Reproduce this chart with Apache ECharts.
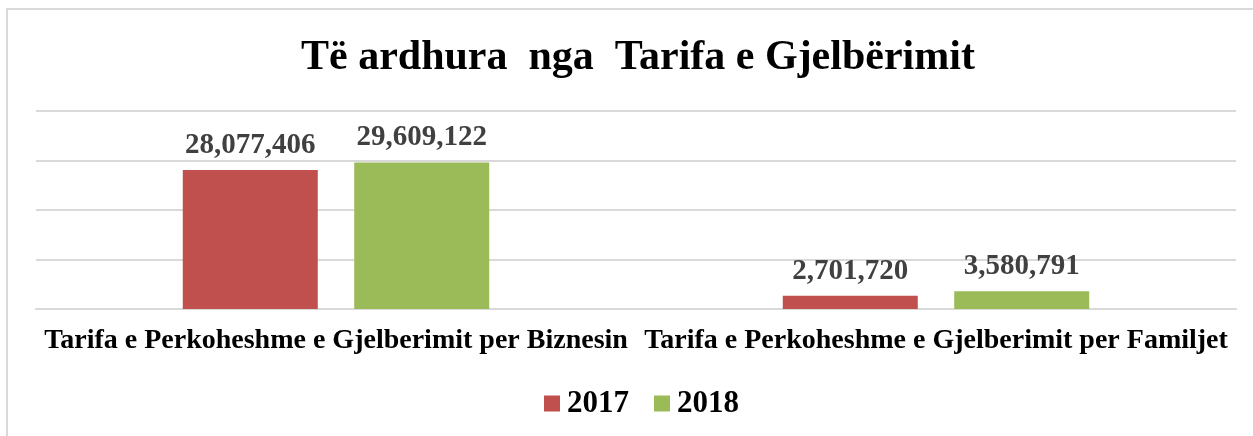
<!DOCTYPE html>
<html>
<head>
<meta charset="utf-8">
<script src="https://cdn.jsdelivr.net/npm/echarts@6/dist/echarts.min.js"></script>
<style>
html,body{margin:0;padding:0;background:#fff;}
#chart{width:1253px;height:436px;}
</style>
</head>
<body>
<div id="chart"></div>
<script>
const titleText = 'Të ardhura  nga  Tarifa e Gjelbërimit';
const categories = ['Tarifa e Perkoheshme e Gjelberimit per Biznesin', 'Tarifa e Perkoheshme e Gjelberimit per Familjet'];
const seriesNames = ['2017', '2018'];
const values2017 = [28077406, 2701720];
const values2018 = [29609122, 3580791];
const colors = ['#C0504D', '#9BBB59'];
const serif = '"Liberation Serif", "Times New Roman", serif';

const chart = echarts.init(document.getElementById('chart'));
const labelStyle = {
  show: true, position: 'top', distance: 10,
  fontFamily: serif, fontWeight: 'bold', fontSize: 29, color: '#404040',
  formatter: p => p.value.toLocaleString('en-US')
};
chart.setOption({
  animation: false,
  color: colors,
  graphic: [{
    type: 'rect', shape: {x: 7, y: 9, width: 1260, height: 440},
    style: {fill: 'none', stroke: '#d9d9d9', lineWidth: 2}, silent: true
  }],
  title: {
    text: titleText, left: 296, top: 32,
    textStyle: {fontFamily: serif, fontWeight: 'bold', fontSize: 42, color: '#000'}
  },
  legend: {
    data: seriesNames, top: 383, left: 539,
    icon: 'rect', itemWidth: 16, itemHeight: 16, itemGap: 25,
    textStyle: {fontFamily: serif, fontWeight: 'bold', fontSize: 31, color: '#000', padding: [0, 0, 0, 2]}
  },
  grid: {left: 36, right: 17, top: 111, bottom: 127},
  xAxis: {
    type: 'category', data: categories,
    axisLine: {lineStyle: {color: '#d9d9d9', width: 2}},
    axisTick: {show: false},
    axisLabel: {fontFamily: serif, fontWeight: 'bold', fontSize: 28, color: '#000', margin: 18, interval: 0}
  },
  yAxis: {
    type: 'value', min: 0, max: 40000000, interval: 10000000,
    axisLabel: {show: false}, axisLine: {show: false}, axisTick: {show: false},
    splitLine: {lineStyle: {color: '#d9d9d9', width: 2}}
  },
  series: [
    {name: seriesNames[0], type: 'bar', data: values2017, barWidth: 135, barGap: '27%', label: labelStyle},
    {name: seriesNames[1], type: 'bar', data: values2018, barWidth: 135, barGap: '27%', label: labelStyle}
  ]
});
</script>
</body>
</html>
